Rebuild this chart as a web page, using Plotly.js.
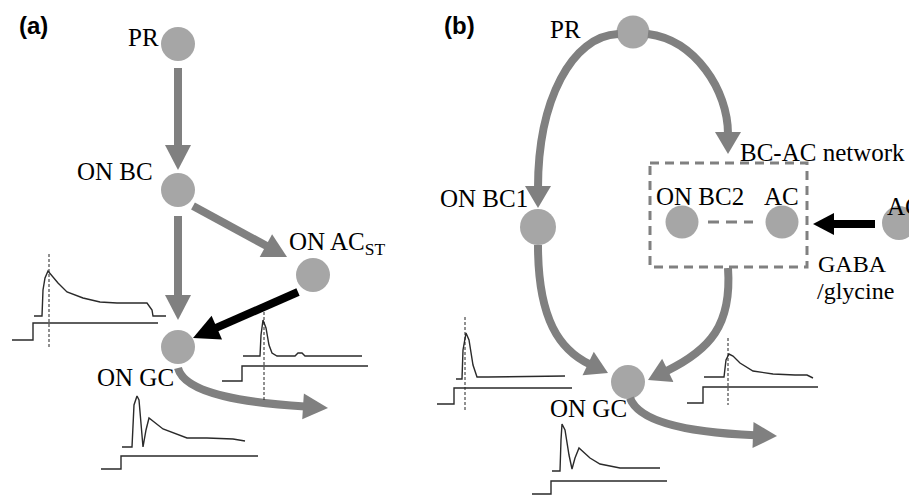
<!DOCTYPE html>
<html><head><meta charset="utf-8">
<script src="https://cdn.plot.ly/plotly-3.0.1.min.js"></script>
<style>html,body{margin:0;padding:0;background:#fff;overflow:hidden}</style>
</head><body><div id="chart" style="width:909px;height:495px"></div>
<script>
// ---- nodes (pixel coordinates of the diagram) ----
const nodeNames = ['PR a','ON BC a','ON AC a','ON GC a','PR b','ON BC1 b','ON BC2 b','AC b','AC ext b','ON GC b'];
const nodeX = [178,178,313,178,633,538,682,782,899,628];
const nodeY = [44,190,275,347,32,227,222,222,223,382];
const nodeSize = [34,34,34,34,33,36,33,33,34,34];

// ---- straight arrows ----
const straightFromX = [178,193,178,298,875];
const straightFromY = [68,206,216,292,224];
const straightTipX = [178,287,178,193,813];
const straightTipY = [170,257,320,338,224];
const straightColor = ['#808080','#808080','#808080','#000000','#000000'];
const straightHeadLen = [25,24,25,26,21];
const straightHeadHalf = [13,13,13,13,11];

// ---- curved arrows (cubic) ----
const curveStartX = [618,648,538,728,630,178];
const curveStartY = [34,34,245,268,398,368];
const curveC1X = [572,695,538,732,640,185];
const curveC1Y = [36,40,320,325,425,395];
const curveC2X = [538,728,560,710,700,250];
const curveC2Y = [100,90,350,350,433,403];
const curveTipX = [538,728,608,648,777,328];
const curveTipY = [208,154,373,380,436,408];
const curveHeadLen = [22,22,22,22,24,25];

// ---- labels ----
const labelText = ['PR','ON BC','ON AC<sub>ST</sub>','ON GC','PR','ON BC1','BC-AC network','ON BC2','AC','AC','GABA','/glycine','ON GC'];
const labelX = [126,75,287,95,548,438,738,654,762,885,816,815,548];
const labelY = [37,171,243,377,29,198,152,196,196,206,264,291,408];
const labelSize = [25,25,25,25,25,25,25,25,25,25,24,24,25];
const panelText = ['(a)','(b)'];
const panelX = [17,442];
const panelY = [25,25];

// ---- recorded responses (waveforms) and light steps ----
const respA1X = [34,42,43,45,48,52,58,67,83,100,117,147,152,153,166];
const respA1Y = [316,316,290,278,271,276,283,292,298,302,303,303,310,316,316];
const stepA1X = [12,33,33,158];
const stepA1Y = [340,340,323,323];
const markA1X = [49,49];
const markA1Y = [254,347];

const respA2X = [243,260,261,263,266,269,272,277,295,298,302,305,362];
const respA2Y = [356,356,335,320,328,345,353,356,356,353,353,356,356];
const stepA2X = [222,242,242,368];
const stepA2Y = [381,381,366,366];
const markA2X = [264,264];
const markA2Y = [312,400];

const respA3X = [122,132,134,137,139,141,143,146,149,163,187,207,233,245];
const respA3Y = [447,447,405,396,400,425,447,430,418,429,438,438,439,441];
const stepA3X = [101,121,121,258];
const stepA3Y = [469,469,456,456];

const respB1X = [456,462,463,466,469,473,477,488,565];
const respB1Y = [379,379,350,333,340,365,377,377,376];
const stepB1X = [437,454,454,572];
const stepB1Y = [404,404,388,388];
const markB1X = [465,465];
const markB1Y = [317,410];

const respB2X = [704,724,726,729,733,740,753,773,795,807,813];
const respB2Y = [377,377,360,354,356,363,371,374,375,375,378];
const stepB2X = [687,703,703,818];
const stepB2Y = [403,403,387,387];
const markB2X = [728,728];
const markB2Y = [338,405];

const respB3X = [552,560,561,562,565,569,572,575,579,590,600,620,660];
const respB3Y = [471,471,440,424,430,455,469,458,448,458,464,468,468];
const stepB3X = [532,551,551,667];
const stepB3Y = [494,494,481,481];

// ---- build ----
const GRAY = '#808080';
const shapes = [];
function head(tx, ty, ux, uy, L, W, color) {
  const bx = tx - ux*L, by = ty - uy*L;
  const nx = -uy, ny = ux;
  shapes.push({type:'path', layer:'below', xref:'x', yref:'y',
    path:`M ${tx} ${ty} L ${bx+nx*W} ${by+ny*W} L ${bx-nx*W} ${by-ny*W} Z`,
    fillcolor:color, line:{width:0}});
  return [bx, by];
}
for (let i=0;i<straightFromX.length;i++){
  const dx = straightTipX[i]-straightFromX[i], dy = straightTipY[i]-straightFromY[i];
  const len = Math.hypot(dx,dy); const ux=dx/len, uy=dy/len;
  const [bx,by] = head(straightTipX[i],straightTipY[i],ux,uy,straightHeadLen[i],straightHeadHalf[i],straightColor[i]);
  shapes.push({type:'line', layer:'below', xref:'x', yref:'y', x0:straightFromX[i], y0:straightFromY[i], x1:bx+ux*2, y1:by+uy*2,
    line:{color:straightColor[i], width:8}});
}
for (let i=0;i<curveStartX.length;i++){
  const dx = curveTipX[i]-curveC2X[i], dy = curveTipY[i]-curveC2Y[i];
  const len = Math.hypot(dx,dy); const ux=dx/len, uy=dy/len;
  const [bx,by] = head(curveTipX[i],curveTipY[i],ux,uy,curveHeadLen[i],13,GRAY);
  shapes.push({type:'path', layer:'below', xref:'x', yref:'y',
    path:`M ${curveStartX[i]} ${curveStartY[i]} C ${curveC1X[i]} ${curveC1Y[i]} ${curveC2X[i]} ${curveC2Y[i]} ${bx+ux*2} ${by+uy*2}`,
    line:{color:GRAY, width:8}});
}
// dashed BC-AC network box and link
shapes.push({type:'rect', layer:'below', xref:'x', yref:'y', x0:650, x1:807, y0:163, y1:267, line:{color:GRAY, width:3, dash:'9px,6px'}});
shapes.push({type:'line', layer:'below', xref:'x', yref:'y', x0:708, x1:753, y0:222, y1:222, line:{color:GRAY, width:3, dash:'11px,7px'}});

const traces = [];
const wave = (x,y) => traces.push({x, y, type:'scatter', mode:'lines', line:{color:'#2a2a2a', width:1.4}, hoverinfo:'skip', cliponaxis:false});
const mark = (x,y) => traces.push({x, y, type:'scatter', mode:'lines', line:{color:'#222', width:1, dash:'3px,2px'}, hoverinfo:'skip'});
wave(respA1X,respA1Y); wave(stepA1X,stepA1Y); mark(markA1X,markA1Y);
wave(respA2X,respA2Y); wave(stepA2X,stepA2Y); mark(markA2X,markA2Y);
wave(respA3X,respA3Y); wave(stepA3X,stepA3Y);
wave(respB1X,respB1Y); wave(stepB1X,stepB1Y); mark(markB1X,markB1Y);
wave(respB2X,respB2Y); wave(stepB2X,stepB2Y); mark(markB2X,markB2Y);
wave(respB3X,respB3Y); wave(stepB3X,stepB3Y);
traces.push({x:nodeX, y:nodeY, text:nodeNames, type:'scatter', mode:'markers', cliponaxis:false,
  marker:{size:nodeSize, color:GRAY, line:{width:0}}, hoverinfo:'text'});

const annotations = [];
for (let i=0;i<labelText.length;i++){
  annotations.push({x:labelX[i], y:labelY[i], xref:'x', yref:'y', text:labelText[i], showarrow:false,
    xanchor:'left', yanchor:'middle', font:{family:'Liberation Serif', size:labelSize[i], color:'#000'}});
}
for (let i=0;i<panelText.length;i++){
  annotations.push({x:panelX[i], y:panelY[i], xref:'x', yref:'y', text:'<b>'+panelText[i]+'</b>', showarrow:false,
    xanchor:'left', yanchor:'middle', font:{family:'Liberation Sans', size:24, color:'#000'}});
}

const layout = {
  width:909, height:495, margin:{l:0,r:0,t:0,b:0,pad:0},
  paper_bgcolor:'#fff', plot_bgcolor:'#fff', showlegend:false,
  xaxis:{range:[0,909], visible:false, fixedrange:true},
  yaxis:{range:[495,0], visible:false, fixedrange:true},
  shapes, annotations
};
Plotly.newPlot('chart', traces, layout, {staticPlot:true, displayModeBar:false});
</script></body></html>
